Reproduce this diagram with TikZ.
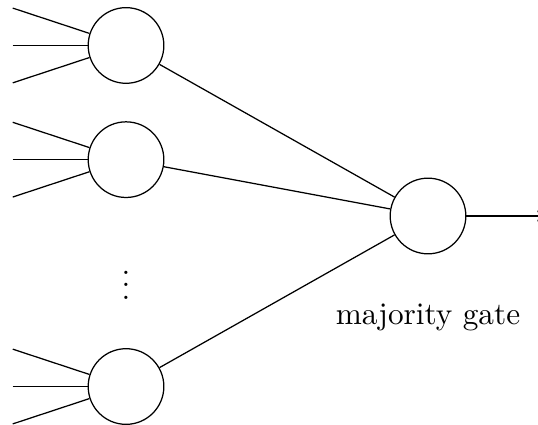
\documentclass[tikz,border=0pt]{standalone}
\usepackage{tikz}
\usetikzlibrary{positioning, arrows, calc}

\begin{document}
\begin{tikzpicture}[
    neuron/.style={draw, circle, minimum size=0.85cm, inner sep=0pt}
  ]
    \useasboundingbox (0,0) rectangle (6.045,-4.775);

    % first layer
    \node[neuron] (n1) at (1.416,-0.511) {};
    \node[neuron] (n2) at (1.416,-1.794) {};
    \node[neuron] (n3) at (1.416,-4.343) {};
    \node (dots) at (1.416,-3.1) {$\vdots$};

    % inputs
    \foreach \n in {n1,n2,n3} {
        \coordinate (\n-a) at ($(\n)+(-1.273,0.42)$);
        \coordinate (\n-b) at ($(\n)+(-1.273,0)$);
        \coordinate (\n-c) at ($(\n)+(-1.273,-0.42)$);
        \draw (\n-a) -- (\n);
        \draw (\n-b) -- (\n);
        \draw (\n-c) -- (\n);
    }

    % output gate
    \node[neuron] (gate) at (4.809,-2.427) {};
    \node[below=0.43cm of gate] (label) {majority gate};
    \foreach \n in {n1,n2,n3}
        \draw (\n) -- (gate);
    \coordinate (out) at (6.1,-2.427);
    \draw[->] (gate) -- (out);
\end{tikzpicture}
\end{document}
